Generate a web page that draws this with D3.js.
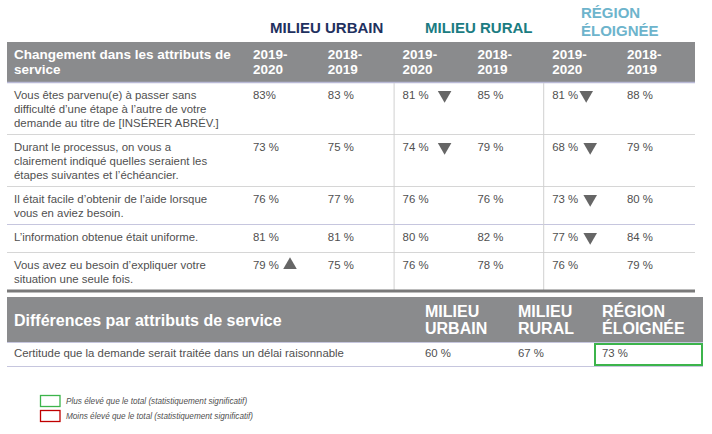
<!DOCTYPE html>
<html><head><meta charset="utf-8">
<script src="https://cdn.jsdelivr.net/npm/d3@7"></script>
<style>body{margin:0;background:#fff}svg{display:block}text{font-family:"Liberation Sans",Arial,sans-serif}</style>
</head><body>
<svg id="c" width="712" height="434"></svg>
<script>
// ---------- DATA ----------
const groups = ["MILIEU URBAIN", "MILIEU RURAL", "RÉGION ÉLOIGNÉE"];
const periods = ["2019-2020", "2018-2019"];
const tableTitle = ["Changement dans les attributs de", "service"];
const attributes = [
  ["Vous êtes parvenu(e) à passer sans", "difficulté d’une étape à l’autre de votre", "demande au titre de [INSÉRER ABRÉV.]"],
  ["Durant le processus, on vous a", "clairement indiqué quelles seraient les", "étapes suivantes et l’échéancier."],
  ["Il était facile d’obtenir de l’aide lorsque", "vous en aviez besoin."],
  ["L’information obtenue était uniforme."],
  ["Vous avez eu besoin d’expliquer votre", "situation une seule fois."]
];
const urbain2020 = [83, 73, 76, 81, 79];
const urbain2019 = [83, 75, 77, 81, 75];
const rural2020 = [81, 74, 76, 80, 76];
const rural2019 = [85, 79, 76, 82, 78];
const eloignee2020 = [81, 68, 73, 77, 76];
const eloignee2019 = [88, 79, 80, 84, 79];
const urbainTrend = [null, null, null, null, "up"];
const ruralTrend = ["down", "down", null, null, null];
const eloigneeTrend = ["down", "down", "down", "down", null];

const diffTitle = "Différences par attributs de service";
const diffGroups = [["MILIEU", "URBAIN"], ["MILIEU", "RURAL"], ["RÉGION", "ÉLOIGNÉE"]];
const diffAttribute = "Certitude que la demande serait traitée dans un délai raisonnable";
const diffValues = [60, 67, 73];
const diffSignificance = [null, null, "higher"];

const legendLabels = ["Plus élevé que le total (statistiquement significatif)", "Moins élevé que le total (statistiquement significatif)"];
const legendKeys = ["higher", "lower"];

// ---------- STYLE ----------
const GRAY = "#8a8b8d", TXT = "#505050", TRI = "#666";
const groupColors = ["#1f3160", "#1b7c82", "#6db4cc"];
const sigColor = d3.scaleOrdinal().domain(legendKeys).range(["#3cb44b", "#c00000"]);
const FS = 11.4;

const svg = d3.select("#c");

const colX = d3.scaleLinear().domain([0, 5]).range([253, 627]);
const valueSets = [[urbain2020, urbain2019], [rural2020, rural2019], [eloignee2020, eloignee2019]];
const trendSets = [urbainTrend, ruralTrend, eloigneeTrend];
const triOffset = [37, 42, 38];

// group titles
const groupX = [270, 425, 581];
groups.forEach((g, i) => {
  const x = groupX[i];
  const t = svg.append("text").attr("x", x).attr("fill", groupColors[i])
    .attr("font-weight", "bold").attr("font-size", 15);
  if (i === 2) {
    const w = g.split(" ");
    t.append("tspan").attr("x", x).attr("y", 18).text(w[0]);
    t.append("tspan").attr("x", x).attr("y", 36).text(w[1]);
  } else t.attr("y", 33).text(g);
});

// header band
const left = 7, right = 695;
svg.append("rect").attr("x", left).attr("y", 42).attr("width", right - left).attr("height", 40).attr("fill", GRAY);
svg.append("text").attr("fill", "#fff").attr("font-weight", "bold").attr("font-size", 13.5)
  .selectAll("tspan").data(tableTitle).join("tspan")
  .attr("x", 14).attr("y", (d, i) => 59 + i * 15).text(d => d);
for (let c = 0; c < 6; c++) {
  const p = periods[c % 2].split("-");
  svg.append("text").attr("fill", "#fff").attr("font-weight", "bold").attr("font-size", 13.5)
    .selectAll("tspan").data([p[0] + "-", p[1]]).join("tspan")
    .attr("x", colX(c)).attr("y", (d, i) => 59 + i * 15).text(d => d);
}

// rows
const rowH = attributes.map(a => Math.max(28, a.length * 14 + 10));
const rowTop = [];
let y = 82;
rowH.forEach(h => { rowTop.push(y); y += h; });
const tableBottom = y;

svg.append("line").attr("x1", left).attr("x2", right).attr("y1", 82.5).attr("y2", 82.5).attr("stroke", "#b9b9d6").attr("stroke-width", 1.5);
rowTop.slice(1).forEach((t, i) => {
  svg.append("line").attr("x1", left).attr("x2", right).attr("y1", t + 0.5).attr("y2", t + 0.5)
    .attr("stroke", i === 2 ? "#c6c6de" : "#d6d6d6").attr("stroke-width", 1);
});
[colX(2) - 9, colX(4) - 9].forEach(x => {
  svg.append("line").attr("x1", x + 0.5).attr("x2", x + 0.5).attr("y1", 83).attr("y2", tableBottom).attr("stroke", "#d0d0d0");
});
svg.append("line").attr("x1", left).attr("x2", right).attr("y1", tableBottom + 1).attr("y2", tableBottom + 1).attr("stroke", "#7a7a7a").attr("stroke-width", 3);

const tri = d3.symbol().type(d3.symbolTriangle).size(80);
attributes.forEach((lines, r) => {
  const by = rowTop[r] + 16.5;
  svg.append("text").attr("fill", TXT).attr("font-size", FS)
    .selectAll("tspan").data(lines).join("tspan")
    .attr("x", 14).attr("y", (d, i) => by + i * 14).text(d => d);
  valueSets.forEach((pair, g) => {
    pair.forEach((arr, p) => {
      const c = g * 2 + p;
      const label = (r === 0 && c === 0) ? arr[r] + "%" : arr[r] + " %";
      svg.append("text").attr("x", colX(c)).attr("y", by).attr("fill", TXT).attr("font-size", FS).text(label);
    });
    const tr = trendSets[g][r];
    if (tr) {
      const off = (g === 2 && r === 0) ? 34 : triOffset[g];
      svg.append("path").attr("d", tri)
        .attr("transform", `translate(${colX(g * 2) + off},${by - 3.5}) rotate(${tr === "down" ? 180 : 0})`)
        .attr("fill", TRI);
    }
  });
});

// second table
const dLeft = 7, dRight = 703;
const dxPos = i => [425, 518, 602][i];
svg.append("rect").attr("x", dLeft).attr("y", 297).attr("width", dRight - dLeft).attr("height", 45).attr("fill", GRAY);
svg.append("text").attr("x", 14).attr("y", 326).attr("fill", "#fff").attr("font-weight", "bold").attr("font-size", 16).text(diffTitle);
diffGroups.forEach((g, i) => {
  svg.append("text").attr("fill", "#fff").attr("font-weight", "bold").attr("font-size", 16)
    .selectAll("tspan").data(g).join("tspan")
    .attr("x", dxPos(i)).attr("y", (d, k) => 317 + k * 16.5).text(d => d);
});
svg.append("line").attr("x1", dLeft).attr("x2", dRight).attr("y1", 342.5).attr("y2", 342.5).attr("stroke", "#c6c6de");
svg.append("text").attr("x", 14).attr("y", 357).attr("fill", TXT).attr("font-size", FS).text(diffAttribute);
diffValues.forEach((v, i) => {
  svg.append("text").attr("x", dxPos(i)).attr("y", 357).attr("fill", TXT).attr("font-size", FS).text(v + " %");
  if (diffSignificance[i]) {
    svg.append("rect").attr("x", dxPos(i) - 7).attr("y", 344).attr("width", dRight - dxPos(i) + 6).attr("height", 21)
      .attr("fill", "none").attr("stroke", sigColor(diffSignificance[i])).attr("stroke-width", 2);
  }
});
svg.append("line").attr("x1", dLeft).attr("x2", dRight).attr("y1", 366.5).attr("y2", 366.5).attr("stroke", "#c6c6de");

// legend
legendKeys.forEach((k, i) => {
  svg.append("rect").attr("x", 40.5).attr("y", 395.5 + i * 15).attr("width", 19.5).attr("height", 11)
    .attr("fill", "none").attr("stroke", sigColor(k)).attr("stroke-width", 1.3);
  svg.append("text").attr("x", 66).attr("y", 404 + i * 14.5).attr("fill", TXT).attr("font-size", 8.2)
    .attr("font-style", "italic").text(legendLabels[i]);
});
</script>
</body></html>
